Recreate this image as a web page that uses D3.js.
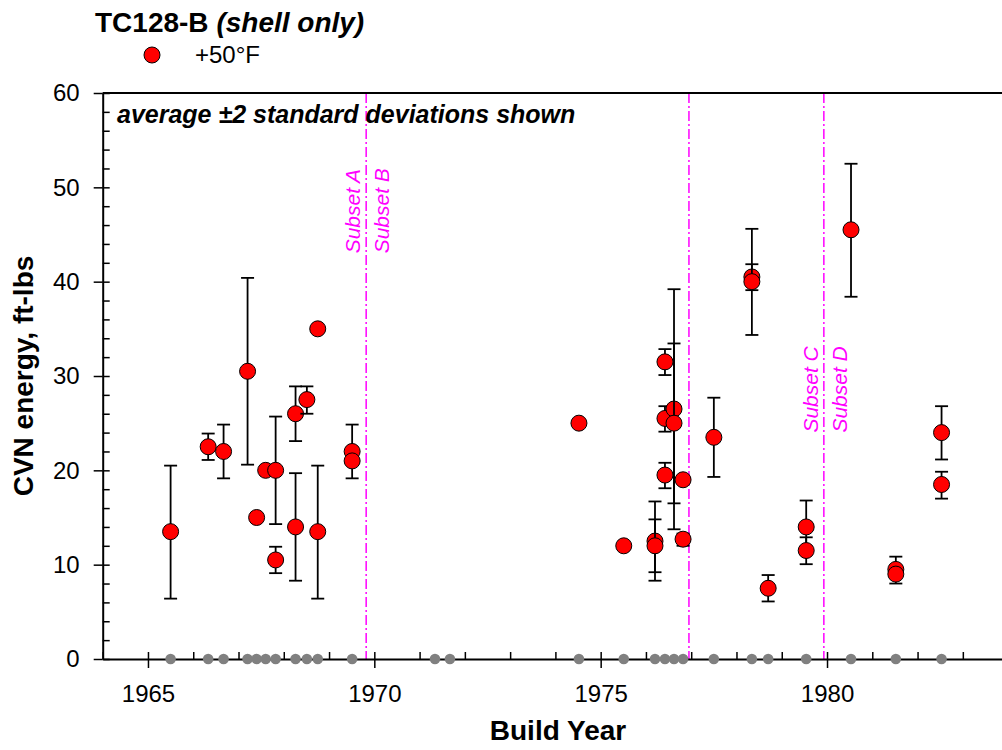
<!DOCTYPE html>
<html lang="en">
<head>
<meta charset="utf-8">
<title>TC128-B shell only</title>
<script src="https://cdn.jsdelivr.net/npm/d3@7"></script>
<style>
  body { margin: 0; background: #fff; }
  svg { display: block; font-family: Arial, "Liberation Sans", sans-serif; }
</style>
</head>
<body>
<div id="chart"></div>
<script>
  // build dates of every car tested (grey dots on the axis)
  const buildYears = [1965.5, 1966.33, 1966.67, 1967.2, 1967.4, 1967.6, 1967.82, 1968.26, 1968.51, 1968.75,
    1969.51, 1971.34, 1971.67, 1974.52, 1975.51, 1976.2, 1976.42, 1976.62, 1976.82, 1977.5,
    1978.34, 1978.7, 1979.54, 1980.53, 1981.52, 1982.53];

  // +50F averages with the +/-2 sd range (null = single test, no bar)
  const pointYears = [1965.5, 1966.33, 1966.67, 1967.2, 1967.4, 1967.6, 1967.82, 1967.82, 1968.26, 1968.26,
    1968.51, 1968.75, 1968.75, 1969.51, 1969.51, 1974.52, 1975.51, 1976.2, 1976.2, 1976.42,
    1976.42, 1976.42, 1976.62, 1976.62, 1976.82, 1976.82, 1977.5, 1978.34, 1978.34, 1978.7,
    1979.54, 1979.54, 1980.53, 1981.52, 1981.52, 1982.53, 1982.53];
  const pointAvg = [13.5, 22.5, 22.0, 30.5, 15.0, 20.0, 20.0, 10.5, 26.0, 14.0,
    27.5, 35.0, 13.5, 22.0, 21.0, 25.0, 12.0, 12.5, 12.0, 31.5,
    25.5, 19.5, 26.5, 25.0, 19.0, 12.7, 23.5, 40.5, 40.0, 7.5,
    14.0, 11.5, 45.5, 9.5, 9.0, 24.0, 18.5];
  const pointLo = [6.4, 21.1, 19.15, 20.6, null, null, 14.3, 9.1, 23.1, 8.3,
    26.0, null, 6.4, 19.15, null, null, null, 8.3, 9.2, 30.1,
    24.1, 18.1, 13.75, 16.5, null, 12.0, 19.3, 39.1, 34.35, 6.1,
    11.2, 10.05, 38.4, 8.0, null, 21.15, 17.0];
  const pointHi = [20.5, 23.9, 24.85, 40.4, null, null, 25.7, 11.9, 28.9, 19.7,
    28.9, null, 20.5, 24.85, null, null, null, 16.7, 14.8, 32.85,
    26.8, 20.8, 39.2, 33.45, null, 13.3, 27.7, 41.85, 45.6, 8.9,
    16.8, 12.9, 52.5, 10.85, null, 26.8, 19.85];

  const subsetYears = [1969.82, 1976.95, 1979.93];
  const subsetBefore = ['Subset A', null, 'Subset C'];
  const subsetAfter = ['Subset B', null, 'Subset D'];

  const xTickLabels = [1965, 1970, 1975, 1980];
  const yTickLabels = [0, 10, 20, 30, 40, 50, 60];

  const width = 1002, height = 750;
  const plotLeft = 102.7, plotTop = 93, plotBottom = 659;
  const pxPerYear = 45.27;
  const fontFamily = 'Arial, "Liberation Sans", sans-serif';
  let svg = null, x = null, y = null;

  function createSvg() {
    svg = d3.select('#chart').append('svg').attr('width', width).attr('height', height);
  }

  function createScale() {
    x = d3.scaleLinear().domain([1964, 1984]).range([plotLeft, plotLeft + 20 * pxPerYear]);
    y = d3.scaleLinear().domain([0, 60]).range([plotBottom, plotTop]);
  }

  function renderAxis() {
    // minor ticks every year, pointing in
    svg.append('g').attr('transform', `translate(0,${plotBottom})`)
      .call(d3.axisTop(x).tickValues(d3.range(1964, 1985)).tickSize(7).tickSizeOuter(0).tickFormat(''))
      .call(g => g.select('.domain').remove());
    // major ticks cross the axis, with labels
    const xAxis = svg.append('g').classed('axis', true).attr('transform', `translate(0,${plotBottom})`)
      .call(d3.axisBottom(x).tickValues(xTickLabels).tickSize(9).tickPadding(17).tickSizeOuter(0).tickFormat(d3.format('d')));

    svg.append('g').attr('transform', `translate(${plotLeft},0)`)
      .call(d3.axisRight(y).tickValues(d3.range(0, 61, 2)).tickSize(7).tickSizeOuter(0).tickFormat(''))
      .call(g => g.select('.domain').remove());
    const yAxis = svg.append('g').classed('axis', true).attr('transform', `translate(${plotLeft},0)`)
      .call(d3.axisLeft(y).tickValues(yTickLabels).tickSize(9).tickPadding(14).tickSizeOuter(0));

    svg.selectAll('g.axis .tick text')
      .attr('font-size', 24).attr('fill', '#000').attr('font-family', fontFamily);
    svg.selectAll('.tick line').attr('stroke', '#000').attr('stroke-width', 1.5);
    svg.selectAll('.domain').attr('stroke', '#000').attr('stroke-width', 2);

    // top frame line
    svg.append('line')
      .attr('x1', plotLeft).attr('x2', width).attr('y1', plotTop).attr('y2', plotTop)
      .attr('stroke', '#000').attr('stroke-width', 2);
  }

  function renderSubsets() {
    const g = svg.append('g').classed('subsets', true);
    g.selectAll('line').data(subsetYears).join('line')
      .attr('x1', d => x(d)).attr('x2', d => x(d))
      .attr('y1', plotTop).attr('y2', plotBottom)
      .attr('stroke', '#ff00ff').attr('stroke-width', 1.5)
      .attr('stroke-dasharray', '10,3,2,3');

    const labelAt = [43, 24, 24];
    subsetYears.forEach((yr, i) => {
      if (subsetBefore[i]) {
        g.append('text')
          .attr('transform', `translate(${x(yr) - 6},${y(labelAt[i])}) rotate(-90)`)
          .text(subsetBefore[i]);
      }
      if (subsetAfter[i]) {
        g.append('text')
          .attr('transform', `translate(${x(yr) + 23},${y(labelAt[i])}) rotate(-90)`)
          .text(subsetAfter[i]);
      }
    });
    g.selectAll('text')
      .attr('font-size', 21).attr('font-style', 'italic').attr('fill', '#ff00ff');
  }

  function renderPoints() {
    const data = pointYears.map((yr, i) => ({ year: yr, avg: pointAvg[i], lo: pointLo[i], hi: pointHi[i] }));
    const cap = 6.5;
    const pts = svg.append('g').classed('points', true)
      .selectAll('g').data(data).join('g');

    const bars = pts.filter(d => d.lo !== null);
    bars.append('line')
      .attr('x1', d => x(d.year)).attr('x2', d => x(d.year))
      .attr('y1', d => y(d.lo)).attr('y2', d => y(d.hi));
    bars.append('line')
      .attr('x1', d => x(d.year) - cap).attr('x2', d => x(d.year) + cap)
      .attr('y1', d => y(d.hi)).attr('y2', d => y(d.hi));
    bars.append('line')
      .attr('x1', d => x(d.year) - cap).attr('x2', d => x(d.year) + cap)
      .attr('y1', d => y(d.lo)).attr('y2', d => y(d.lo));
    pts.selectAll('line').attr('stroke', '#000').attr('stroke-width', 1.8);

    pts.append('circle')
      .attr('cx', d => x(d.year)).attr('cy', d => y(d.avg)).attr('r', 8)
      .attr('fill', '#ff0000').attr('stroke', '#000').attr('stroke-width', 1);
  }

  function renderBuildDots() {
    svg.append('g').classed('builds', true)
      .selectAll('circle').data(buildYears).join('circle')
      .attr('cx', d => x(d)).attr('cy', y(0)).attr('r', 5.3)
      .attr('fill', '#808080');
  }

  function renderText() {
    const title = svg.append('text').attr('x', 95).attr('y', 32)
      .attr('font-size', 28).attr('font-weight', 'bold');
    title.append('tspan').text('TC128-B ');
    title.append('tspan').attr('font-style', 'italic').text('(shell only)');

    svg.append('circle').attr('cx', 152).attr('cy', 55).attr('r', 8)
      .attr('fill', '#ff0000').attr('stroke', '#000').attr('stroke-width', 1);
    svg.append('text').attr('x', 195).attr('y', 63).attr('font-size', 24).text('+50°F');

    svg.append('text').attr('x', 117).attr('y', 123)
      .attr('font-size', 25).attr('font-weight', 'bold').attr('font-style', 'italic')
      .text('average ±2 standard deviations shown');

    svg.append('text').attr('x', 558).attr('y', 740)
      .attr('text-anchor', 'middle').attr('font-size', 28).attr('font-weight', 'bold')
      .text('Build Year');

    svg.append('text')
      .attr('transform', `translate(33,${(plotTop + plotBottom) / 2}) rotate(-90)`)
      .attr('text-anchor', 'middle').attr('font-size', 28).attr('font-weight', 'bold')
      .text('CVN energy, ft-lbs');
  }

  function init() {
    createSvg();
    createScale();
    renderSubsets();
    renderAxis();
    renderPoints();
    renderBuildDots();
    renderText();
  }

  init();
</script>
</body>
</html>
